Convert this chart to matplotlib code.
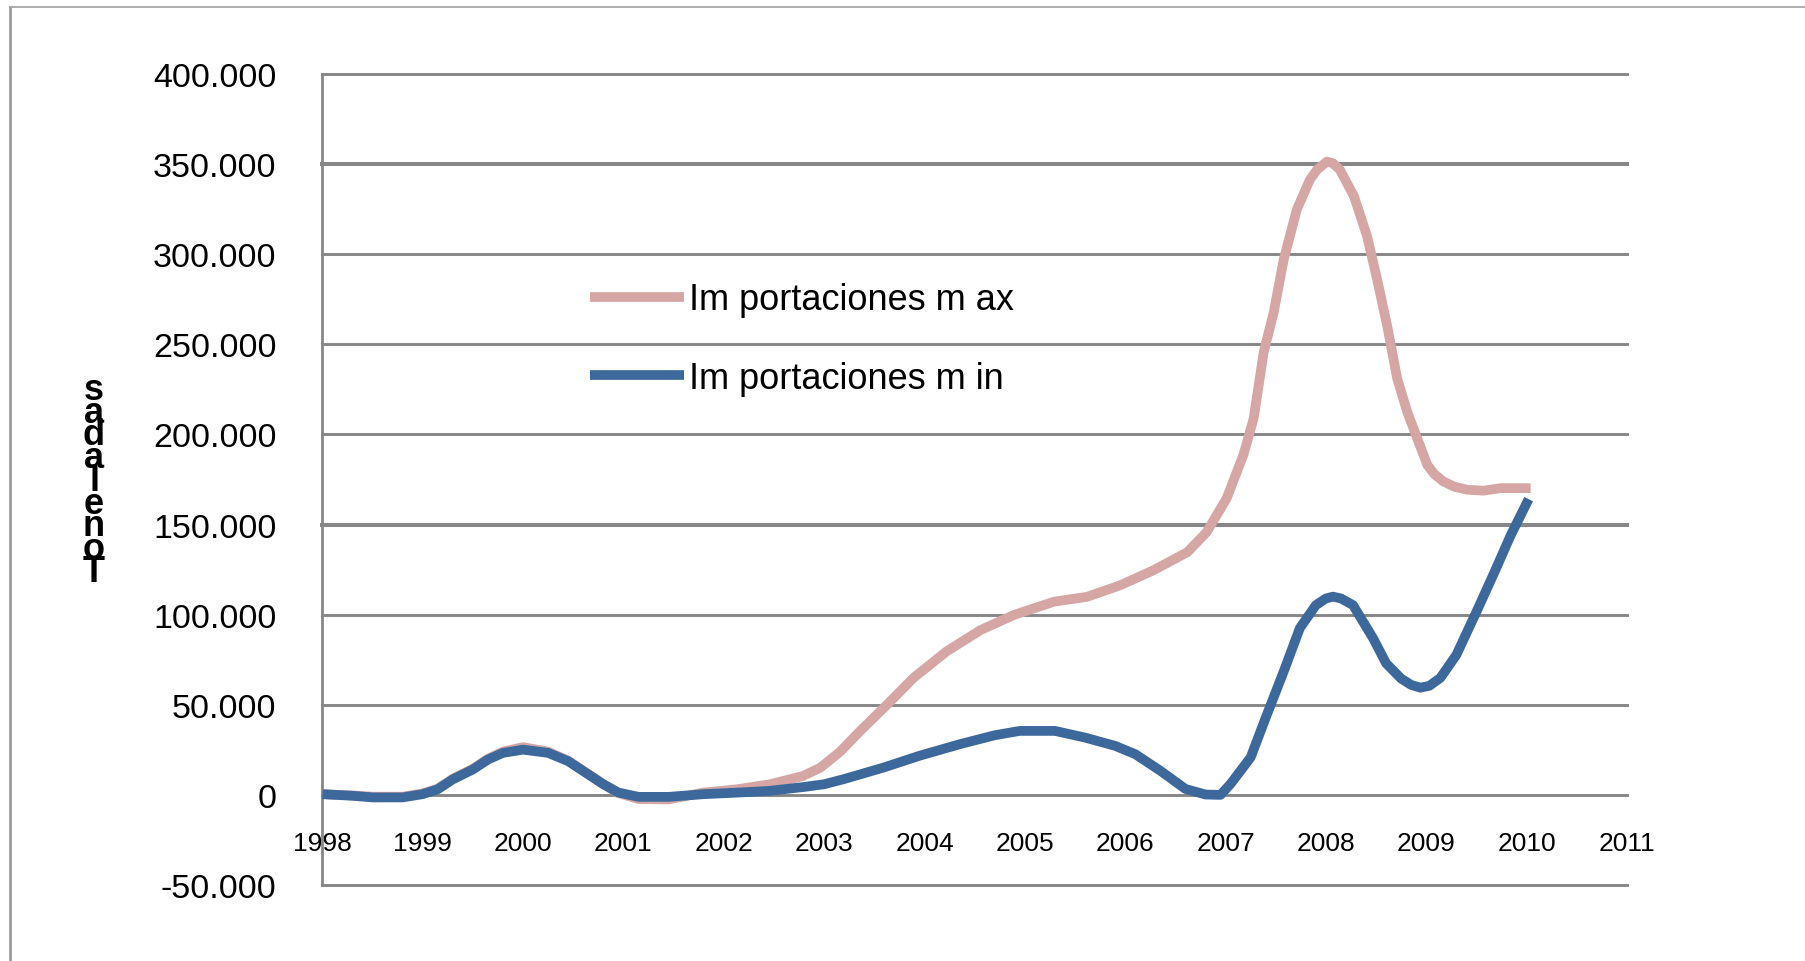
import numpy as np
import matplotlib
matplotlib.use('Agg')
import matplotlib.pyplot as plt
from matplotlib.lines import Line2D

# values (decimal year, tonnes)
years_max = [1998.0, 1998.3, 1998.5, 1998.8, 1999.0, 1999.15, 1999.3, 1999.5, 1999.65, 1999.8,
             2000.0, 2000.25, 2000.45, 2000.65, 2000.8, 2000.95, 2001.15, 2001.45, 2001.8, 2002.13,
             2002.46, 2002.79, 2002.96, 2003.16, 2003.36, 2003.63, 2003.89, 2004.22, 2004.56, 2004.89,
             2005.29, 2005.62, 2005.95, 2006.28, 2006.62, 2006.81, 2007.01, 2007.18, 2007.28, 2007.38,
             2007.48, 2007.58, 2007.71, 2007.84, 2007.91, 2008.01, 2008.07, 2008.14, 2008.28, 2008.41,
             2008.51, 2008.61, 2008.71, 2008.81, 2008.91, 2009.01, 2009.08, 2009.17, 2009.28, 2009.41,
             2009.57, 2009.74, 2010.04]
imp_max = [400, -300, -1000, -1000, 800, 3500, 9000, 14500, 20000, 24000,
           26500, 24000, 19000, 11500, 6000, 1000, -2300, -2500, 1300, 3100,
           5900, 10500, 15000, 24000, 35500, 50200, 64900, 79600, 91500, 99800,
           107200, 109900, 116300, 124600, 134700, 145700, 164400, 189000, 208900, 245700,
           267800, 297200, 324800, 341300, 346800, 351400, 350500, 346800, 332100, 310000,
           286100, 260400, 231000, 212600, 197800, 183100, 178000, 173900, 171000, 169300,
           168800, 170200, 170200]

years_min = [1998.0, 1998.3, 1998.5, 1998.8, 1999.0, 1999.15, 1999.3, 1999.5, 1999.65, 1999.8,
             2000.0, 2000.25, 2000.45, 2000.65, 2000.8, 2000.95, 2001.15, 2001.45, 2001.8, 2002.15,
             2002.45, 2002.8, 2003.0, 2003.2, 2003.6, 2003.95, 2004.35, 2004.7, 2004.95, 2005.3,
             2005.6, 2005.9, 2006.1, 2006.35, 2006.6, 2006.8, 2006.95, 2007.05, 2007.25, 2007.4,
             2007.58, 2007.74, 2007.9, 2008.0, 2008.07, 2008.15, 2008.27, 2008.47, 2008.6, 2008.75,
             2008.85, 2008.94, 2009.03, 2009.14, 2009.3, 2009.5, 2009.68, 2009.84, 2010.02]
imp_min = [400, -500, -1400, -1400, 400, 3100, 8600, 14100, 19600, 23300,
           25100, 23300, 18700, 11400, 5900, 1300, -1100, -1100, 400, 1300,
           2200, 4400, 5900, 8800, 15300, 21700, 28100, 33100, 35500, 35500,
           31800, 27200, 22600, 13400, 3300, 200, 0, 6100, 20800, 42800,
           68600, 92500, 105300, 109000, 110000, 109000, 105300, 86900, 73000, 64500,
           61000, 59500, 60500, 64900, 77700, 101600, 123700, 143900, 164100]

year_ticks = list(range(1998, 2012))
year_labels = [str(y) for y in year_ticks]
value_ticks = [-50000, 0, 50000, 100000, 150000, 200000, 250000, 300000, 350000, 400000]
value_labels = ['-50.000', '0', '50.000', '100.000', '150.000', '200.000',
                '250.000', '300.000', '350.000', '400.000']
series_names = ['Im portaciones m ax', 'Im portaciones m in']
y_title = 'Toneladas'

plt.rcParams['font.family'] = ['Liberation Sans', 'DejaVu Sans']

W, H = 1805, 962
fig = plt.figure(figsize=(W / 100, H / 100), dpi=100)
ax = fig.add_axes([322.3 / W, 1 - 886 / H, (1627 - 322.3) / W, (886 - 75) / H])

grid_color = '#878787'
for v in value_ticks:
    # a couple of gridlines come out heavier in the original
    lw = 2.9 if v in (150000, 350000) else 2.1
    ax.axhline(v, color=grid_color, lw=lw, zorder=1, clip_on=False)

ax.plot(years_max, imp_max, color='#D5A6A4', lw=7, solid_joinstyle='round',
        solid_capstyle='butt', zorder=3, label=series_names[0])
ax.plot(years_min, imp_min, color='#3D689B', lw=7, solid_joinstyle='round',
        solid_capstyle='butt', zorder=4, label=series_names[1])

ax.set_xlim(1998, 2011)
ax.set_ylim(-50000, 400000)

for side in ['top', 'right']:
    ax.spines[side].set_visible(False)
ax.spines['left'].set_color(grid_color)
ax.spines['left'].set_linewidth(2.0)
ax.spines['bottom'].set_position(('data', 0))
ax.spines['bottom'].set_visible(False)

ax.set_xticks(year_ticks)
ax.set_xticklabels(year_labels)
ax.set_yticks(value_ticks)
ax.set_yticklabels(value_labels)
ax.tick_params(axis='x', length=0, pad=26, labelsize=19)
ax.tick_params(axis='y', length=0, pad=33, labelsize=24.5)

ax.legend(loc='upper left', bbox_to_anchor=(0.205, 0.743), frameon=False, fontsize=26,
          handlelength=2.6, handletextpad=0.15, labelspacing=1.2, borderpad=0,
          borderaxespad=0)

# stacked, overlapping letters of the axis title (bottom to top)
for i, ch in enumerate(y_title):
    fig.text(94 / W, 1 - (582 - 22.75 * i) / H, ch, ha='center', va='baseline',
             fontsize=26, fontweight='bold')

# outer frame of the original picture
fig.add_artist(Line2D([10 / W, 10 / W], [0, 1 - 8 / H], transform=fig.transFigure,
                      color='#9a9a9a', lw=2.0))
fig.add_artist(Line2D([10 / W, 1], [1 - 8 / H, 1 - 8 / H], transform=fig.transFigure,
                      color='#a8a8a8', lw=1.3))

fig.savefig('out.png', dpi=100)
